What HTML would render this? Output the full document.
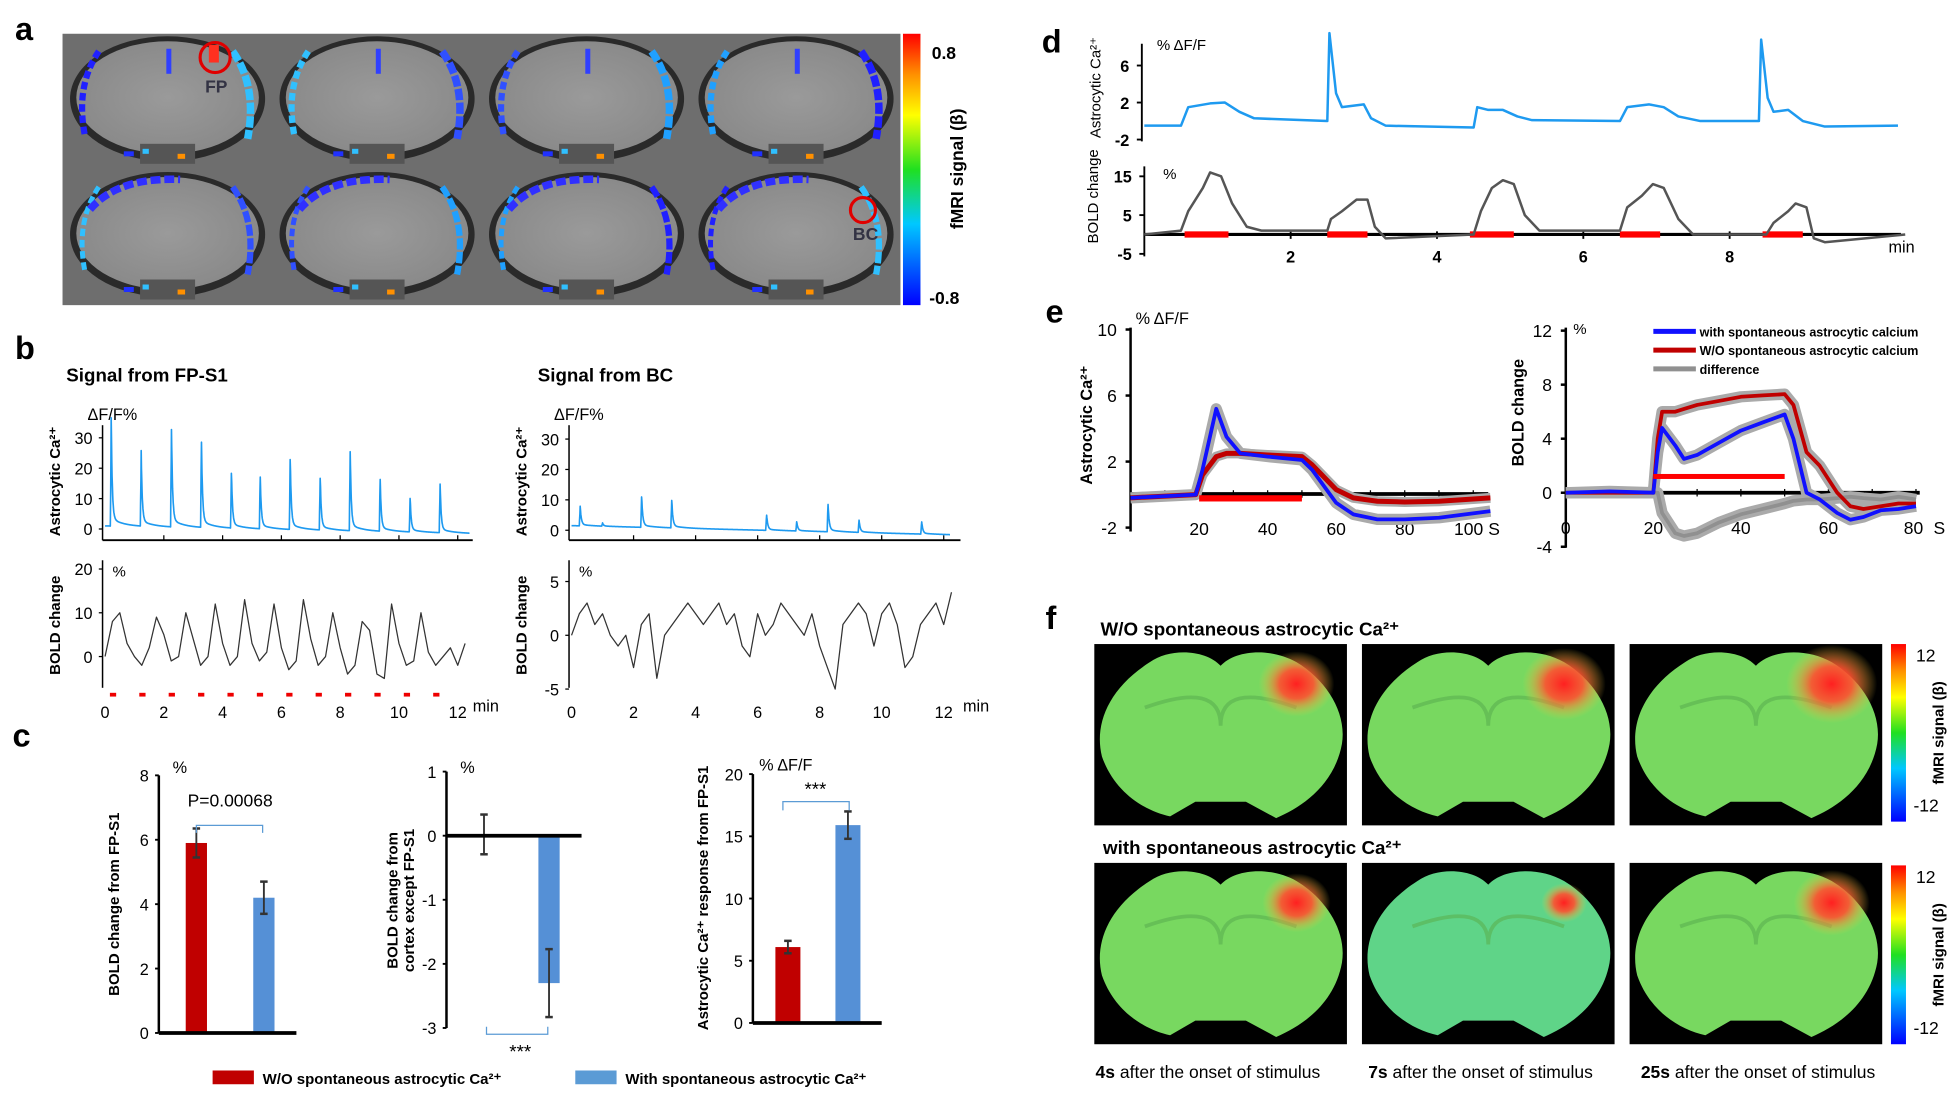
<!DOCTYPE html>
<html><head><meta charset="utf-8"><style>
html,body{margin:0;padding:0;background:#fff;width:1951px;height:1093px;overflow:hidden}
svg{display:block}
text{font-family:"Liberation Sans",sans-serif}
</style></head><body>
<svg id="fig" width="1951" height="1093" viewBox="0 0 1560 874" preserveAspectRatio="none" xmlns="http://www.w3.org/2000/svg">
<defs>
<linearGradient id="jet" x1="0" y1="1" x2="0" y2="0">
<stop offset="0" stop-color="#0000ff"/><stop offset="0.3" stop-color="#00c8ff"/><stop offset="0.5" stop-color="#20e020"/><stop offset="0.7" stop-color="#ffff00"/><stop offset="0.85" stop-color="#ff9000"/><stop offset="1" stop-color="#ff0000"/>
</linearGradient>
<radialGradient id="hot"><stop offset="0" stop-color="#ff2020"/><stop offset="0.45" stop-color="#ff5030" stop-opacity="0.9"/><stop offset="1" stop-color="#f0d040" stop-opacity="0"/></radialGradient>
<radialGradient id="brainG"><stop offset="0" stop-color="#9a9a9a"/><stop offset="1" stop-color="#8a8a8a"/></radialGradient>
</defs>
<g id="root"></g>
</svg>
<script>
// ---------- data ----------
const fpSpikeTimes=[0.21,1.23,2.26,3.28,4.3,5.28,6.3,7.32,8.34,9.36,10.38,11.4];
const fpSpikeHeights=[33,23,32,28,18,17,23,17,26,17,11,16];
const bcSpikeTimes=[0.28,1.0,2.26,3.23,6.29,7.26,8.27,9.27,11.29];
const bcSpikeHeights=[6,1,10,9,5,3,9,4,4];
const fpBold=[0,8,10,3,0,-2,2,9,5,-1,0,10,4,-2,0,12,3,-2,0,13,3,-1,1,12,2,-3,-1,13,4,-2,0,10,2,-4,-2,8,6,-4,-5,12,3,-2,-1,10,1,-2,0,2,-2,3];
const bcBold=[0,2,3,1,2,0,-1,0,-3,1,2,-4,0,1,2,3,2,1,2,3,1,2,-1,-2,2,0,1,3,2,1,0,2,-1,-3,-5,1,2,3,2,-1,2,3,1,-3,-2,1,2,3,1,4];
const fpStimTimes=[0.25,1.25,2.25,3.25,4.25,5.25,6.25,7.25,8.25,9.25,10.25,11.25];
const dAstroT=[0,0.5,0.6,0.9,1.1,1.3,1.5,2.5,2.53,2.62,2.7,3.0,3.1,3.3,4.5,4.55,4.7,4.9,5.1,5.3,6.5,6.6,6.9,7.1,7.3,7.6,8.4,8.43,8.52,8.6,8.8,9.0,9.3,10.3];
const dAstroV=[-0.5,-0.5,1.5,1.9,2,1,0.3,0,9.5,3,1.5,1.8,0.3,-0.5,-0.7,1.5,1.2,1.2,0.5,0.1,0,1.5,1.8,1.5,0.5,0,0,8.8,2.5,1,1.2,0,-0.6,-0.5];
const dBoldT=[0,0.5,0.6,0.8,0.9,1.05,1.2,1.4,1.6,2.5,2.55,2.7,2.9,3.05,3.15,3.3,4.5,4.6,4.75,4.9,5.05,5.2,5.4,6.5,6.6,6.8,6.95,7.1,7.3,7.5,8.5,8.6,8.8,8.9,9.05,9.15,9.3,10.4];
const dBoldV=[0,1,6,12,16,15,8,2,1,1,4,6,9,9,2,-1,0,6,12,14,13,5,1,1,7,10,13,12,4,0,0,3,6,8,7,-1,-2,0];
const dStimStart=[0.55,2.5,4.45,6.5,8.45];
const dStimEnd=[1.15,3.05,5.05,7.05,9.0];
const eAstT=[0,19,21,25,28,32,40,50,53,60,65,72,80,90,105];
const eAstBlue=[-0.2,0,1.5,5.2,3.5,2.5,2.3,2.1,1.5,-0.5,-1.2,-1.5,-1.5,-1.4,-1.0];
const eAstRed=[-0.2,0,1.2,2.3,2.5,2.5,2.4,2.3,1.8,0.3,-0.2,-0.4,-0.45,-0.4,-0.2];
const eBoldT=[0,10,20,21,22,25,27,30,35,40,45,50,52,55,58,62,65,68,72,76,80];
const eBoldRed=[0,0,0,4,6,6,6.2,6.5,6.8,7.1,7.2,7.3,6.5,3,2,0,-1,-1.2,-1,-0.8,-0.8];
const eBoldBlue=[0,0.1,0,3,4.8,3.5,2.5,2.8,3.7,4.6,5.2,5.8,4,0,-0.5,-1.5,-2,-1.8,-1.3,-1.2,-1];
const eBoldDiff=[0,0,0,0,-1.5,-3,-3.2,-3,-2.2,-1.6,-1.2,-0.8,-0.6,-0.5,-0.5,-0.4,-0.3,-0.4,-0.5,-0.3,-0.5];
const c1Vals=[5.9,4.2], c1Err=[0.45,0.5];
const c2Vals=[0.02,-2.3], c2Err=[0.31,0.53];
const c3Vals=[6.1,15.9], c3Err=[0.5,1.1];

// ---------- helpers ----------
const NS="http://www.w3.org/2000/svg";
const root=document.getElementById('root');
function el(tag,attrs,parent,txt){const e=document.createElementNS(NS,tag);for(const k in attrs)e.setAttribute(k,attrs[k]);if(txt!==undefined)e.textContent=txt;(parent||root).appendChild(e);return e;}
function T(x,y,s,size,opt){opt=opt||{};const e=el('text',{x:x,y:y,'font-size':size,fill:opt.fill||'#000','font-weight':opt.bold?'bold':'normal','text-anchor':opt.anchor||'start'},opt.parent,s);
if(opt.rot){e.setAttribute('transform','rotate(-90 '+x+' '+y+')');}


return e;}
function L(x1,y1,x2,y2,c,w,p){const e=el('line',{x1:x1,y1:y1,x2:x2,y2:y2,stroke:c||'#000','stroke-width':w||1.5},p);

return e;}
function poly(pts,c,w,p,name){const e=el('polyline',{points:pts.map(q=>q[0].toFixed(1)+','+q[1].toFixed(1)).join(' '),fill:'none',stroke:c,'stroke-width':w,'stroke-linejoin':'round'},p);

return e;}
function spikeTrace(times,heights,b0,b1,tEnd,xs,ys){const pts=[];for(let t=0;t<=tEnd;t+=0.01){let v=b0+(b1-b0)*t/tEnd;for(let i=0;i<times.length;i++){const d=t-times[i];if(d>=-0.03&&d<0)v+=heights[i]*(1+d/0.03);else if(d>=0)v+=heights[i]*Math.exp(-d/0.035)+0.08*heights[i]*Math.exp(-d/0.4);}pts.push([xs(t),ys(v)]);}return pts;}

// ---------- panel letters ----------
[['a',12,32],['b',12,287],['c',10,597],['d',833,42],['e',836,258],['f',836,503]].forEach(a=>T(a[1],a[2],a[0],26,{bold:true,name:'panel-letter-'+a[0]}));

// ---------- panel a: brain mosaic ----------
const ga=el('g',{});  
el('rect',{x:50,y:27,width:670,height:217,fill:'#6e6e6e'},ga);
const blues=['#2020ff','#30c0ff','#3050ff','#20a0ff'];
for(let r=0;r<2;r++)for(let c=0;c<4;c++){
 const x0=50+c*167.5,y0=27+r*108.5,cx=x0+84,cy=y0+52;
 const cell=el('g',{},ga);  
 el('ellipse',{cx:cx,cy:cy,rx:78,ry:50,fill:'#2a2a2a'},cell);
 el('ellipse',{cx:cx,cy:cy-1,rx:73,ry:45,fill:'url(#brainG)'},cell);
 el('rect',{x:cx-22,y:y0+88,width:44,height:16,fill:'#555'},cell);
 // activation stripes
 const lw=r?4:5;
 el('path',{d:`M${cx-55},${cy-38} Q${cx-74},${cy-10} ${cx-66},${cy+30}`,stroke:blues[(r+c)%4],'stroke-width':lw,fill:'none','stroke-dasharray':'6 3'},cell);
 el('path',{d:`M${cx+52},${cy-38} Q${cx+72},${cy-10} ${cx+64},${cy+32}`,stroke:blues[(r+c+1)%4],'stroke-width':lw+1,fill:'none','stroke-dasharray':'9 2'},cell);
 if(r===1){el('path',{d:`M${cx-62},${cy-20} Q${cx-40},${cy-46} ${cx+10},${cy-44}`,stroke:'#3030ff','stroke-width':6,fill:'none','stroke-dasharray':'8 3'},cell);}
 else{el('rect',{x:cx-1,y:y0+12,width:4,height:20,fill:'#3040ff'},cell);}
 el('rect',{x:cx-35,y:cy+42,width:8,height:4,fill:'#2030ff'},cell);
 el('rect',{x:cx+8,y:cy+44,width:6,height:4,fill:'#ff9000'},cell);
 el('rect',{x:cx-20,y:cy+40,width:5,height:4,fill:'#30c0ff'},cell);
}
el('rect',{x:167,y:36,width:8,height:14,fill:'#ff3020'},ga);
el('circle',{cx:172,cy:46,r:12,fill:'none',stroke:'#e00000','stroke-width':2.5},ga);
T(164,74,'FP',14,{bold:true,fill:'#334',name:'fp-label'});
el('circle',{cx:690,cy:168,r:10,fill:'none',stroke:'#e00000','stroke-width':2.5},ga);
T(682,192,'BC',14,{bold:true,fill:'#334',name:'bc-label'});
const cbA=el('rect',{x:722,y:27,width:14,height:217,fill:'url(#jet)'});
T(745,47,'0.8',14,{bold:true,name:'colorbar-max'});T(743,243,'-0.8',14,{bold:true,name:'colorbar-min'});
T(770,135,'fMRI signal (β)',14,{bold:true,rot:true,anchor:'middle',name:'colorbar-title'});

// ---------- panel b ----------
T(53,305,'Signal from FP-S1',15,{bold:true,name:'fp-title'});
T(430,305,'Signal from BC',15,{bold:true,name:'bc-title'});
function bPanel(ax,xEnd,xs,ysT,ysB,tickTop,tickBot,spT,spH,b0,b1,tEnd,bold,boldStep,boldTicks,labs,minX,stim){
 const g=el('g',{});
 L(ax,340,ax,432,'#000',1.2,g);L(ax,432,xEnd,432,'#000',1.5,g);
 tickTop.forEach(v=>{L(ax-3,ysT(v),ax,ysT(v),'#000',1,g);T(ax-8,ysT(v)+5,String(v),13,{anchor:'end',parent:g,name:'y-tick'});});
 for(let t=2;t<=12;t+=2)L(xs(t),428,xs(t),432,'#000',1,g);
 poly(spikeTrace(spT,spH,b0,b1,tEnd,xs,ysT),'#1e9af0',1.3,g,'astro-trace');
 L(ax,448,ax,550,'#000',1.2,g);
 boldTicks.forEach(v=>{L(ax-3,ysB(v),ax,ysB(v),'#000',1,g);T(ax-8,ysB(v)+5,String(v),13,{anchor:'end',parent:g,name:'y-tick'});});
 poly(bold.map((v,i)=>[xs(i*boldStep),ysB(v)]),'#333',1,g,'bold-trace');
 if(stim)stim.forEach(t=>{const r=el('rect',{x:xs(t)-2,y:554,width:5,height:3,fill:'#e00'},g);});
 labs.forEach(t=>T(xs(t),574,String(t),13,{anchor:'middle',parent:g,name:'x-tick'}));
 T(minX,569,'min',13,{parent:g,name:'x-unit'});
 T(ax-12,336,'ΔF/F%',13,{parent:g,name:'unit'});T(ax+8,461,'%',12,{parent:g,name:'unit'});
 T(ax-34,385,'Astrocytic Ca²⁺',12,{bold:true,rot:true,anchor:'middle',parent:g,name:'y-title'});
 T(ax-34,500,'BOLD change',12,{bold:true,rot:true,anchor:'middle',parent:g,name:'y-title'});
}
const xsL=t=>84+t*23.5, xsR=t=>457+t*24.8;
bPanel(82,378,xsL,v=>423-v*2.43,v=>525-v*3.5,[0,10,20,30],[0,10,20],fpSpikeTimes,fpSpikeHeights,1,-1.5,12.4,fpBold,0.25,[0,10,20],[0,2,4,6,8,10,12],378,fpStimTimes);
bPanel(455,768,xsR,v=>424-v*2.43,v=>508-v*8.6,[0,10,20,30],[-5,0,5],bcSpikeTimes,bcSpikeHeights,1.5,-1.5,12.2,bcBold,0.25,[-5,0,5],[0,2,4,6,8,10,12],770,null);

// ---------- panel c: bars ----------
function barChart(ax,y0px,yTop,vMin,vMax,ticks,vals,errs,xs,bw,xEnd,name){
 const g=el('g',{});
 const ys=v=>y0px-(v-vMin)/(vMax-vMin)*(y0px-yTop);
 L(ax,yTop,ax,y0px,'#000',2,g);
 ticks.forEach(v=>{L(ax-3,ys(v),ax,ys(v),'#000',1.5,g);T(ax-8,ys(v)+5,String(v),13,{anchor:'end',parent:g,name:'y-tick'});});
 const cols=['#c00000','#5590d6'];
 vals.forEach((v,i)=>{const y1=ys(Math.max(0,v)),y2=ys(Math.min(0,v));
  const b=el('rect',{x:xs[i]-bw/2,y:y1,width:bw,height:Math.max(0,y2-y1),fill:cols[i]},g);
  const e1=ys(v+errs[i]),e2=ys(v-errs[i]);L(xs[i],e1,xs[i],e2,'#333',1.5,g);L(xs[i]-3,e1,xs[i]+3,e1,'#333',2,g);L(xs[i]-3,e2,xs[i]+3,e2,'#333',2,g);});
 L(ax,ys(0),xEnd,ys(0),'#000',3,g);
 return ys;
}
barChart(127,826,620,0,8,[0,2,4,6,8],c1Vals,c1Err,[157,211],17,237,'bar-chart-bold');
T(138,618,'%',13,{name:'unit'});T(150,645,'P=0.00068',14,{name:'p-value'});
el('path',{d:'M157,666 V660 H210 V666',fill:'none',stroke:'#5b9bd5','stroke-width':1});
T(95,723,'BOLD change from FP-S1',12,{bold:true,rot:true,anchor:'middle',name:'y-title'});
barChart(357,822,617,-3,1,[1,0,-1,-2,-3],c2Vals,c2Err,[387,439],17,465,'bar-chart-cortex');
T(368,618,'%',13,{name:'unit'});
el('path',{d:'M389,821 V827 H438 V821',fill:'none',stroke:'#5b9bd5','stroke-width':1});T(416,846,'***',15,{anchor:'middle',name:'significance'});
T(318,720,'BOLD change from',12,{bold:true,rot:true,anchor:'middle',name:'y-title'});T(331,720,'cortex except FP-S1',12,{bold:true,rot:true,anchor:'middle',name:'y-title'});
barChart(602,818,619,0,20,[0,5,10,15,20],c3Vals,c3Err,[630,678],20,705,'bar-chart-calcium');
T(607,616,'% ΔF/F',13,{name:'unit'});
el('path',{d:'M626,648 V641 H679 V648',fill:'none',stroke:'#5b9bd5','stroke-width':1});T(652,636,'***',15,{anchor:'middle',name:'significance'});
T(566,718,'Astrocytic Ca²⁺ response from FP-S1',12,{bold:true,rot:true,anchor:'middle',name:'y-title'});
el('rect',{x:170,y:856,width:33,height:11,fill:'#c00000'});T(210,867,'W/O spontaneous astrocytic Ca²⁺',12,{bold:true,name:'legend-without'});
el('rect',{x:460,y:856,width:33,height:11,fill:'#5b9bd5'});T(500,867,'With  spontaneous astrocytic Ca²⁺',12,{bold:true,name:'legend-with'});

// ---------- panel d ----------
const dx=t=>915+t*58.5, dyA=v=>96.8-v*7.4, dyB=v=>187.5-v*3.1;
L(913,35,913,113,'#000',1.5);[6,2,-2].forEach(v=>{L(909,dyA(v),913,dyA(v),'#000',1.5);T(903,dyA(v)+5,String(v),13,{anchor:'end',bold:true,name:'y-tick'});});
poly(dAstroT.map((t,i)=>[dx(t),dyA(dAstroV[i])]),'#1e9af0',2,null,'d-astro-trace');
T(925,40,'% ΔF/F',12,{name:'unit'});
L(915,133,915,205,'#000',1.5);[15,5,-5].forEach(v=>{L(911,dyB(v),915,dyB(v),'#000',1.5);T(905,dyB(v)+5,String(v),13,{anchor:'end',bold:true,name:'y-tick'});});
L(915,187.5,1520,187.5,'#000',2.5);
[2,4,6,8].forEach(t=>{L(dx(t),185,dx(t),191,'#000',1.5);T(dx(t),210,String(t),13,{anchor:'middle',bold:true,name:'x-tick'});});
dStimStart.forEach((s,i)=>{const r=el('rect',{x:dx(s),y:185,width:dx(dStimEnd[i])-dx(s),height:5,fill:'#f00'});});
poly(dBoldT.map((t,i)=>[dx(t),dyB(dBoldV[i])]),'#555',2,null,'d-bold-trace');
T(930,143,'%',12,{name:'unit'});T(1510,202,'min',13,{name:'x-unit'});
T(880,70,'Astrocytic Ca²⁺',12,{rot:true,anchor:'middle',name:'y-title'});T(878,157,'BOLD change',12,{rot:true,anchor:'middle',name:'y-title'});

// ---------- panel e left ----------
const ex=t=>904+t*2.74, ey=v=>395.5-v*13.2;
L(904,262,904,425,'#000',2);[10,6,2,-2].forEach(v=>{L(900,ey(v),904,ey(v),'#000',2);T(893,ey(v)+5,String(v),14,{anchor:'end',name:'y-tick'});});
L(904,395,1190,395,'#000',3);for(let t=10;t<=100;t+=10)L(ex(t),392,ex(t),398,'#000',1);
[20,40,60,80].forEach(t=>T(ex(t),428,String(t),14,{anchor:'middle',name:'x-tick'}));T(1186,428,'100',14,{anchor:'end',name:'x-tick'});T(1190,428,'S',14,{name:'x-unit'});
poly(eAstT.map((t,i)=>[ex(t),ey(eAstBlue[i])]),'#aaa',9,null,'sem-band');poly(eAstT.map((t,i)=>[ex(t),ey(eAstRed[i])]),'#aaa',8,null,'sem-band');
poly(eAstT.map((t,i)=>[ex(t),ey(eAstRed[i])]),'#c00000',4,null,'e-astro-without');
poly(eAstT.map((t,i)=>[ex(t),ey(eAstBlue[i])]),'#1010ff',3,null,'e-astro-with');
el('rect',{x:ex(20),y:396,width:ex(50)-ex(20),height:5,fill:'#f00'});
T(908,259,'% ΔF/F',13,{name:'unit'});T(873,340,'Astrocytic Ca²⁺',13,{bold:true,rot:true,anchor:'middle',name:'y-title'});
// ---------- panel e right ----------
const rx=t=>1252+t*3.5, ry=v=>394-v*10.8;
L(1252,262,1252,438,'#000',2);[12,8,4,0,-4].forEach(v=>{L(1248,ry(v),1252,ry(v),'#000',2);T(1241,ry(v)+5,String(v),14,{anchor:'end',name:'y-tick'});});
L(1252,394,1535,394,'#000',3);for(let t=10;t<=80;t+=10)L(rx(t),391,rx(t),397,'#000',1);
[0,20,40,60].forEach(t=>T(rx(t),427,String(t),14,{anchor:'middle',name:'x-tick'}));T(1530,427,'80',14,{anchor:'middle',name:'x-tick'});T(1546,427,'S',14,{name:'x-unit'});
[eBoldRed,eBoldBlue,eBoldDiff].forEach(a=>poly(eBoldT.map((t,i)=>[rx(t),ry(a[i])]),'#aaa',9,null,'sem-band'));
poly(eBoldT.map((t,i)=>[rx(t),ry(eBoldDiff[i])]),'#909090',3,null,'e-bold-difference');
poly(eBoldT.map((t,i)=>[rx(t),ry(eBoldRed[i])]),'#c00000',3,null,'e-bold-without');
poly(eBoldT.map((t,i)=>[rx(t),ry(eBoldBlue[i])]),'#1010ff',3,null,'e-bold-with');
el('rect',{x:rx(20),y:379,width:rx(50)-rx(20),height:4,fill:'#f00'});
T(1258,267,'%',12,{name:'unit'});T(1218,330,'BOLD change',13,{bold:true,rot:true,anchor:'middle',name:'y-title'});
[['#1010ff','with spontaneous astrocytic calcium',265],['#c00000','W/O spontaneous astrocytic calcium',280],['#909090','difference',295]].forEach(l=>{L(1322,l[2],1356,l[2],l[0],4);T(1359,l[2]+4,l[1],10,{bold:true,name:'legend-entry'});});

// ---------- panel f ----------
T(880,508,'W/O spontaneous astrocytic Ca²⁺',15,{bold:true,name:'f-title-without'});
T(882,683,'with spontaneous astrocytic Ca²⁺',15,{bold:true,name:'f-title-with'});
function brain(x,y,w,h,hot,blueish){
 const g=el('g',{});
 el('rect',{x:x,y:y,width:w,height:h,fill:'#000'},g);
 const P=(a,b)=>(x+a*w).toFixed(1)+','+(y+b*h).toFixed(1);
 const d='M'+P(0.5,0.12)+' C'+P(0.44,0.03)+' '+P(0.3,0.02)+' '+P(0.22,0.1)+' C'+P(0.05,0.25)+' '+P(0.0,0.45)+' '+P(0.03,0.62)+' C'+P(0.08,0.82)+' '+P(0.2,0.92)+' '+P(0.3,0.95)+' L'+P(0.4,0.87)+' L'+P(0.6,0.87)+' L'+P(0.72,0.96)+' C'+P(0.82,0.9)+' '+P(0.95,0.78)+' '+P(0.98,0.55)+' C'+P(1.0,0.38)+' '+P(0.92,0.2)+' '+P(0.8,0.1)+' C'+P(0.7,0.02)+' '+P(0.56,0.03)+' '+P(0.5,0.12)+' Z';
 el('path',{d:d,fill:blueish?'#5fd488':'#78d860'},g);
 el('path',{d:'M'+P(0.2,0.35)+' Q'+P(0.5,0.2)+' '+P(0.5,0.45)+' Q'+P(0.5,0.2)+' '+P(0.8,0.35),fill:'none',stroke:'#5ab050','stroke-width':3,opacity:0.6},g);
 if(hot)el('ellipse',{cx:x+0.8*w,cy:y+0.22*h,rx:0.15*w*hot,ry:0.18*h*hot,fill:'url(#hot)'},g);
}
const fx=[875,1089,1303];
[1,1.1,1.2].forEach((s,i)=>brain(fx[i],515,202,145,s,false));
[0.9,0.6,1.0].forEach((s,i)=>brain(fx[i],690,202,145,s,i===1));
[[515,657],[692,835]].forEach(r=>{const c=el('rect',{x:1512,y:r[0],width:12,height:r[1]-r[0],fill:'url(#jet)'});
 T(1532,r[0]+14,'12',14,{name:'colorbar-max'});T(1530,r[1]-8,'-12',14,{name:'colorbar-min'});T(1554,(r[0]+r[1])/2,'fMRI signal (β)',12,{bold:true,rot:true,anchor:'middle',name:'colorbar-title'});});
[['4s',876],['7s',1094],['25s',1312]].forEach(c=>{const t=T(c[1],862,'',14,{name:'caption'});const b=el('tspan',{'font-weight':'bold'},t,c[0]);el('tspan',{},t,' after the onset of stimulus');});
</script>
</body></html>
